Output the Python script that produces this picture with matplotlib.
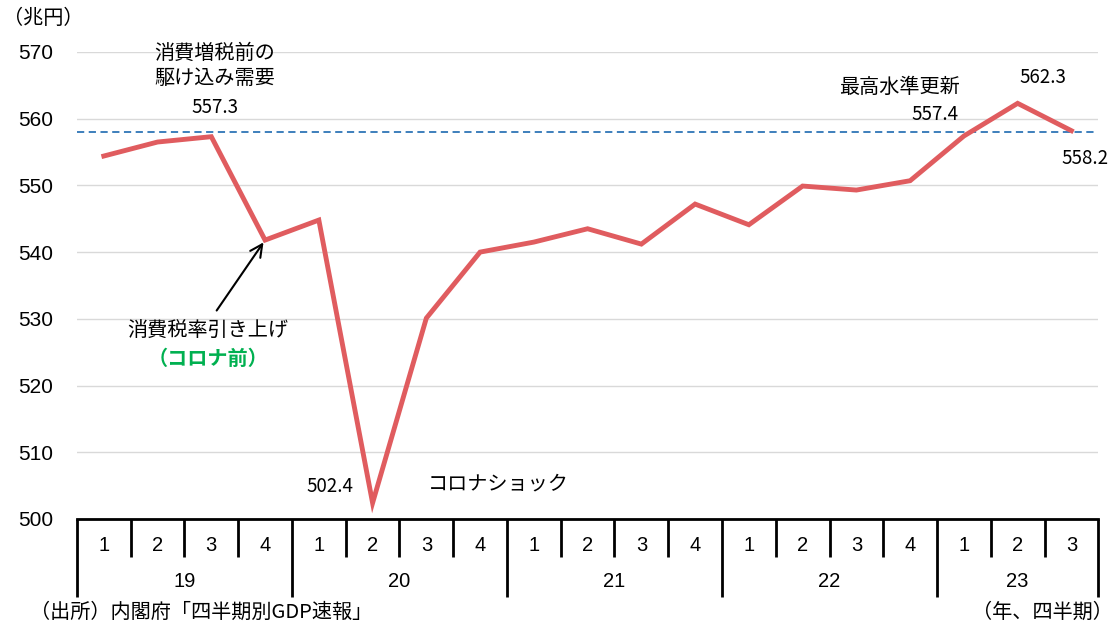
import matplotlib
matplotlib.use("Agg")
import matplotlib.pyplot as plt
import matplotlib.transforms as mtransforms

plt.rcParams['font.family'] = ['Noto Sans CJK JP', 'DejaVu Sans']

# 実質GDP（兆円）
years = ["19", "20", "21", "22", "23"]
quarters = ["1", "2", "3", "4", "1", "2", "3", "4", "1", "2", "3", "4",
            "1", "2", "3", "4", "1", "2", "3"]
gdp = [554.4, 556.5, 557.3, 541.8, 544.8, 502.4, 530.1, 540.0, 541.5, 543.5,
       541.2, 547.2, 544.1, 549.9, 549.3, 550.7, 557.4, 562.3, 558.2]
ref_level = 558.0
yticks = [500, 510, 520, 530, 540, 550, 560, 570]

red = "#E05C5F"
blue = "#2E75B6"
green = "#00B050"

fig = plt.figure(figsize=(11.15, 6.26), dpi=100)
ax = fig.add_axes([0.069, 0.171, 0.916, 0.746])

n = len(gdp)
x = list(range(n))
ax.plot(x, gdp, color=red, lw=3.5, solid_joinstyle="miter", zorder=3)
ax.plot([-0.5, n - 0.4], [ref_level, ref_level], color=blue, lw=1.3, ls=(0, (4, 2.5)), zorder=2)

ax.set_xlim(-0.5, n - 0.5)
ax.set_ylim(500, 570)
ax.set_yticks(yticks)
ax.tick_params(axis="y", length=0, pad=17, labelsize=15)
for lab in ax.get_yticklabels():
    lab.set_fontfamily(["Liberation Sans"])
ax.set_xticks([])
ax.grid(axis="y", color="#D9D9D9", lw=1)
ax.set_axisbelow(True)
for s in ["top", "right", "left"]:
    ax.spines[s].set_visible(False)
ax.spines["bottom"].set_linewidth(2)

# カテゴリ軸（四半期・年）
trans = mtransforms.blended_transform_factory(ax.transData, ax.transAxes)
for i in range(n + 1):
    e = i - 0.5
    is_year = (i % 4 == 0) or i == n
    ax.plot([e, e], [0, -0.167 if is_year else -0.081], color="black", lw=2,
            transform=trans, clip_on=False, solid_capstyle="butt")
for i, q in enumerate(quarters):
    ax.text(i, -0.056, q, transform=trans, ha="center", va="center",
            fontsize=14.5, family=["Liberation Sans"])
for k, yr in enumerate(years):
    start = 4 * k - 0.5
    end = min(4 * k + 4, n) - 0.5
    ax.text((start + end) / 2, -0.135, yr, transform=trans, ha="center", va="center",
            fontsize=14.5, family=["Liberation Sans"])

# 注記
fs = 14.5
fn = 13.5
ax.text(2.07, 567.9, "消費増税前の\n駆け込み需要", ha="center", va="center", fontsize=fs,
        linespacing=1.3)
ax.text(2.07, 561.6, "557.3", ha="center", va="center", fontsize=fn)
ax.text(14.8, 564.6, "最高水準更新", ha="center", va="center", fontsize=fs)
ax.text(17.47, 566.1, "562.3", ha="center", va="center", fontsize=fn)
ax.text(15.46, 560.7, "557.4", ha="center", va="center", fontsize=fn)
ax.text(18.25, 554.1, "558.2", ha="center", va="center", fontsize=fn)
ax.text(4.2, 504.8, "502.4", ha="center", va="center", fontsize=fn)
ax.text(7.33, 505.2, "コロナショック", ha="center", va="center", fontsize=fs)
ax.text(1.94, 528.3, "消費税率引き上げ", ha="center", va="center", fontsize=fs)
ax.text(1.94, 524.1, "（コロナ前）", ha="center", va="center", fontsize=fs,
        color=green, fontweight="bold")
ax.annotate("", xy=(3, gdp[3]), xytext=(2.07, 530.9),
            arrowprops=dict(arrowstyle="->", color="black", lw=1.5, mutation_scale=22))

fig.text(0.003, 0.971, "（兆円）", ha="left", va="center", fontsize=fs)
fig.text(0.027, 0.022, "（出所）内閣府「四半期別GDP速報」", ha="left", va="center", fontsize=fs)
fig.text(0.998, 0.022, "（年、四半期）", ha="right", va="center", fontsize=fs)

fig.savefig("out.png", dpi=100)
